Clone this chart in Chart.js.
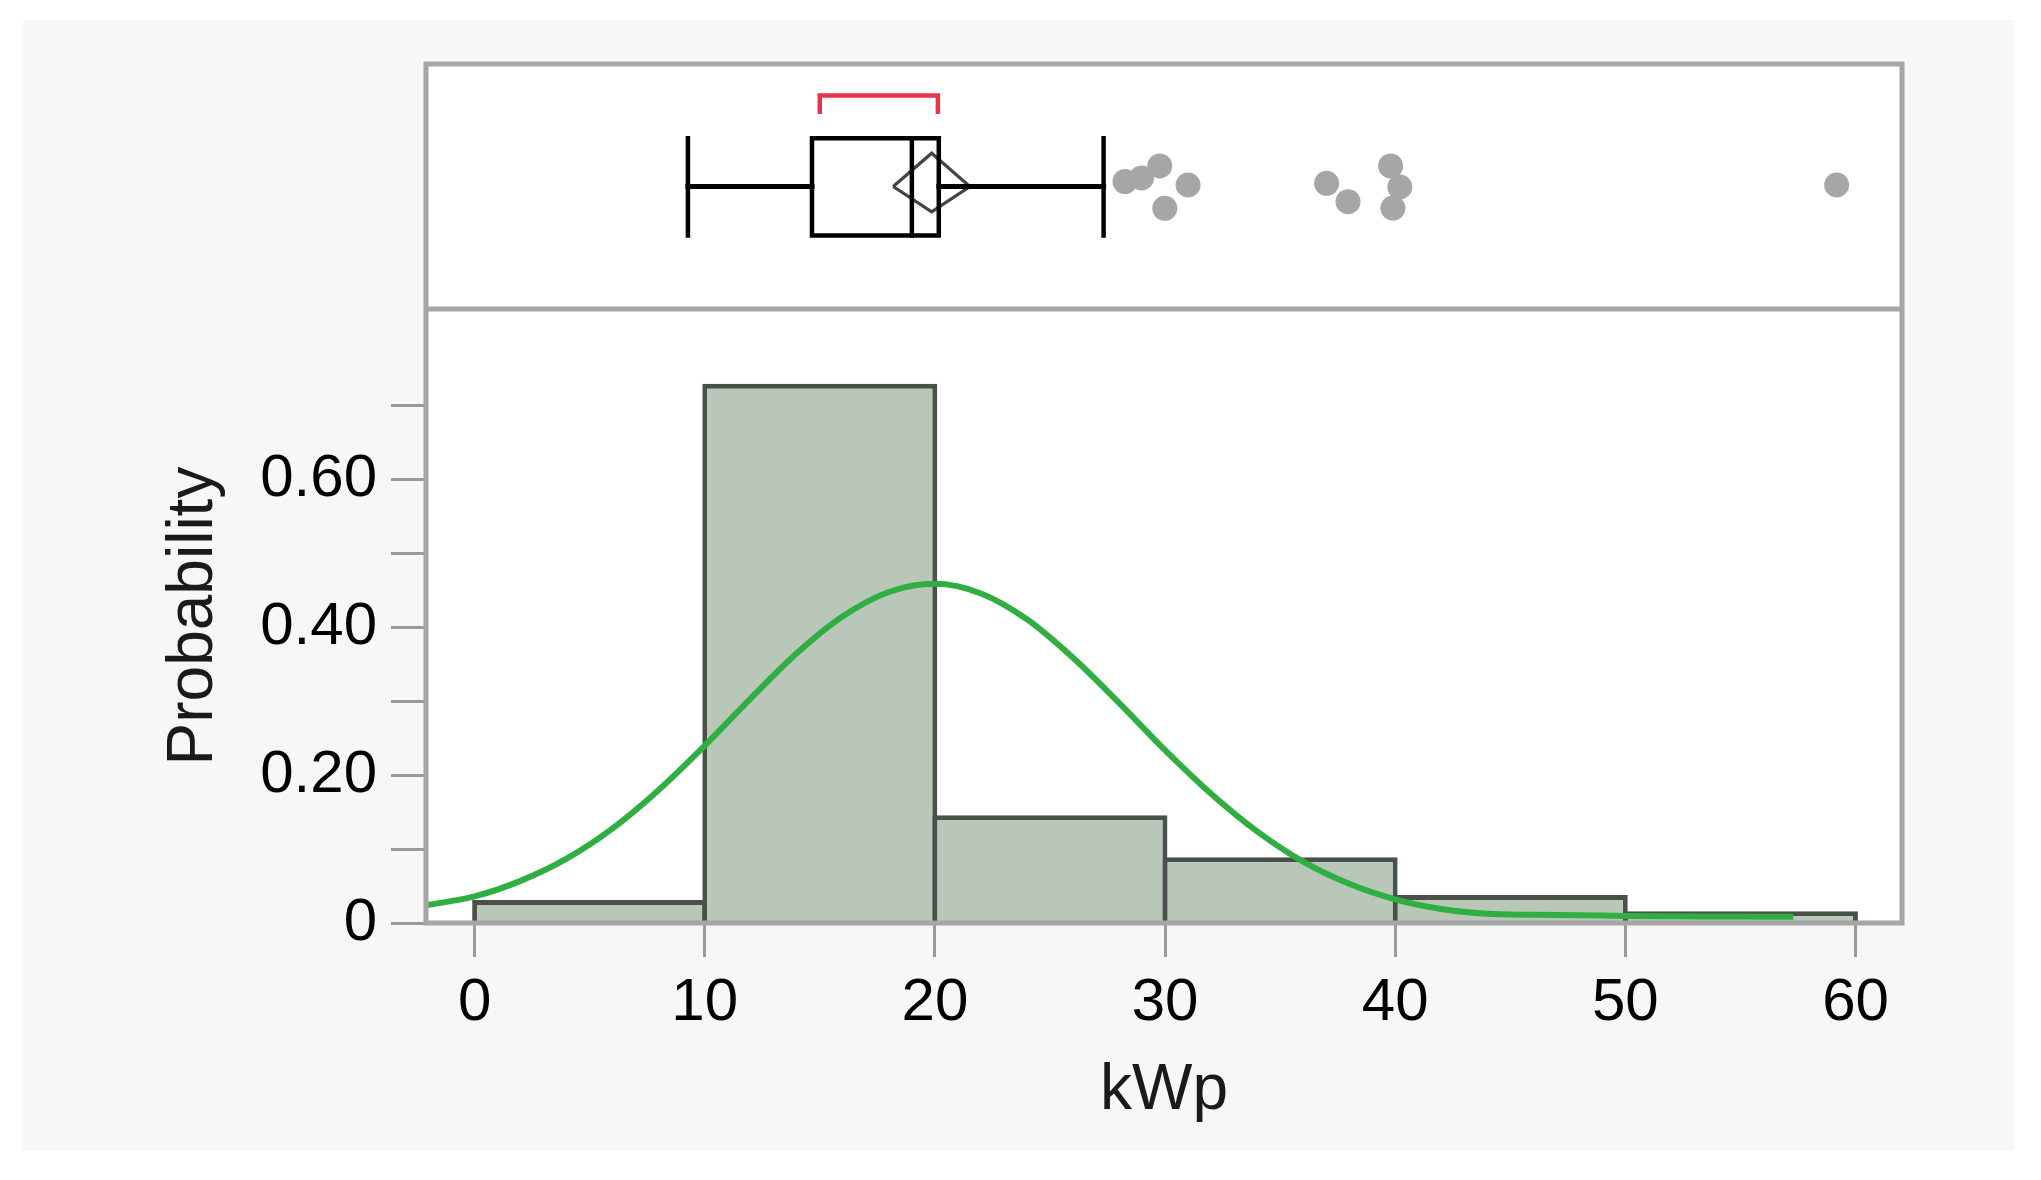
<!DOCTYPE html>
<html>
<head>
<meta charset="utf-8">
<title>kWp distribution</title>
<script src="https://cdn.jsdelivr.net/npm/chart.js@4.4.1/dist/chart.umd.min.js"></script>
<style>
  html, body { margin: 0; padding: 0; background: #ffffff; }
  #panel { position: absolute; left: 23px; top: 20px; width: 1991px; height: 1131px; background: #f7f7f7; }
</style>
</head>
<body>
<div id="panel"><canvas id="kwpChart"></canvas></div>
<script>
// ------------------ Data ------------------
// histogram bins (kWp) and probability per bin
const binEdges = [0, 10, 20, 30, 40, 50, 60];
const binProb = [0.031, 0.730, 0.146, 0.089, 0.038, 0.016];

// fitted normal curve
const curveX = [-2.11, 0, 2, 4, 6, 8, 10, 12, 14, 16, 18, 20, 22, 24, 26, 28, 30, 32, 34, 36, 38, 40, 42, 44, 46, 48, 50, 52, 54, 56, 57.3];
const curveY = [0.024, 0.036, 0.057, 0.087, 0.128, 0.180, 0.240, 0.304, 0.365, 0.415, 0.448, 0.459, 0.446, 0.411, 0.359, 0.298, 0.234, 0.175, 0.124, 0.083, 0.053, 0.032, 0.019, 0.0125, 0.011, 0.0105, 0.0095, 0.009, 0.0088, 0.0086, 0.0085];

// outlier box plot: whisker lo, q1, median, q3, whisker hi
const boxStats = [9.27, 14.66, 19.0, 20.17, 27.33];
const meanDiamond = [18.19, 19.86, 21.52]; // lower CI, mean, upper CI
const shortestHalf = [15.0, 20.13];
const outlierX = [28.26, 28.98, 29.77, 31.0, 29.99, 37.02, 37.95, 39.8, 40.2, 39.9, 59.18];
const outlierJitter = [0.52, 0.535, 0.584, 0.506, 0.411, 0.513, 0.438, 0.584, 0.498, 0.412, 0.506];

// axis ticks
const xTicks = [0, 10, 20, 30, 40, 50, 60];
const yTicks = [0, 0.1, 0.2, 0.3, 0.4, 0.5, 0.6, 0.7];
const yTickLabels = ['0', '', '0.20', '', '0.40', '', '0.60', ''];

// ------------------ Layout / style ------------------
// rows inside the box plot panel (yBox scale runs 0..1)
const ROW = { mid: 0.5, boxTop: 0.697, boxBottom: 0.30, diaTop: 0.636, diaBottom: 0.397, bracket: 0.871, bracketEnd: 0.796 };
const FRAME_COLOR = '#a6a6a6';
const TICK_COLOR = '#9a9a9a';

Chart.defaults.font.family = '"Liberation Sans", Arial, sans-serif';

function boxLine(points, color, width, cap) {
    return {
        type: 'line',
        yAxisID: 'yBox',
        data: points,
        borderColor: color,
        borderWidth: width,
        borderCapStyle: cap || 'square',
        borderJoinStyle: 'miter',
        pointRadius: 0,
        tension: 0,
        fill: false,
        order: 2
    };
}

// white plot area + gray frame with the divider between the two panels
const framePlugin = {
    id: 'frame',
    beforeDraw(chart) {
        const { ctx, chartArea: a } = chart;
        ctx.save();
        ctx.fillStyle = '#ffffff';
        ctx.fillRect(a.left, a.top, a.right - a.left, a.bottom - a.top);
        ctx.restore();
    },
    afterDatasetsDraw(chart) {
        const { ctx, chartArea: a } = chart;
        const yDiv = chart.scales.yBox.bottom;
        ctx.save();
        ctx.strokeStyle = FRAME_COLOR;
        ctx.lineWidth = 5;
        ctx.strokeRect(a.left, a.top, a.right - a.left, a.bottom - a.top);
        ctx.beginPath();
        ctx.moveTo(a.left, yDiv);
        ctx.lineTo(a.right, yDiv);
        ctx.stroke();
        ctx.restore();
    }
};

function renderChart() {
    const bins = binProb.map((p, i) => ({ x: (binEdges[i] + binEdges[i + 1]) / 2, y: p }));
    const curve = curveX.map((x, i) => ({ x, y: curveY[i] }));
    const [wLo, q1, med, q3, wHi] = boxStats;
    const [mLo, mean, mHi] = meanDiamond;

    new Chart(document.getElementById('kwpChart'), {
        type: 'bar',
        data: {
            datasets: [
                {
                    type: 'line',
                    yAxisID: 'y',
                    data: curve,
                    borderColor: '#2fae42',
                    borderWidth: 6,
                    pointRadius: 0,
                    cubicInterpolationMode: 'monotone',
                    fill: false,
                    order: 1
                },
                {
                    type: 'bar',
                    yAxisID: 'y',
                    data: bins,
                    backgroundColor: '#b9c7b9',
                    borderColor: '#4a504a',
                    borderWidth: 5,
                    borderSkipped: 'start',
                    // a bit over 1 so neighbouring outlines overlap into one line
                    barPercentage: 1.021,
                    categoryPercentage: 1,
                    order: 5
                },
                // box plot pieces
                boxLine([{ x: wLo, y: ROW.mid }, { x: q1, y: ROW.mid }], '#000', 5),
                boxLine([{ x: q3, y: ROW.mid }, { x: wHi, y: ROW.mid }], '#000', 5),
                boxLine([{ x: wLo, y: ROW.boxBottom }, { x: wLo, y: ROW.boxTop }], '#000', 4.5),
                boxLine([{ x: wHi, y: ROW.boxBottom }, { x: wHi, y: ROW.boxTop }], '#000', 4.5),
                boxLine([
                    { x: q1, y: ROW.boxBottom }, { x: q1, y: ROW.boxTop },
                    { x: q3, y: ROW.boxTop }, { x: q3, y: ROW.boxBottom },
                    { x: q1, y: ROW.boxBottom }
                ], '#000', 4.5),
                boxLine([{ x: med, y: ROW.boxBottom }, { x: med, y: ROW.boxTop }], '#000', 4.5),
                boxLine([
                    { x: mLo, y: ROW.mid }, { x: mean, y: ROW.diaTop },
                    { x: mHi, y: ROW.mid }, { x: mean, y: ROW.diaBottom },
                    { x: mLo, y: ROW.mid }
                ], '#444444', 3.2, 'butt'),
                boxLine([
                    { x: shortestHalf[0], y: ROW.bracketEnd }, { x: shortestHalf[0], y: ROW.bracket },
                    { x: shortestHalf[1], y: ROW.bracket }, { x: shortestHalf[1], y: ROW.bracketEnd }
                ], '#e8334a', 4.5, 'butt'),
                {
                    type: 'line',
                    yAxisID: 'yBox',
                    showLine: false,
                    data: outlierX.map((x, i) => ({ x, y: outlierJitter[i] })),
                    pointRadius: 12.5,
                    pointBackgroundColor: '#a6a6a6',
                    pointBorderWidth: 0,
                    pointBorderColor: 'rgba(0,0,0,0)',
                    order: 3
                }
            ]
        },
        options: {
            responsive: true,
            maintainAspectRatio: false,
            animation: false,
            layout: { padding: { top: 44, right: 112, left: 0, bottom: 0 } },
            plugins: {
                legend: { display: false },
                tooltip: { enabled: false }
            },
            scales: {
                x: {
                    type: 'linear',
                    min: -2.11,
                    max: 62.02,
                    offset: false,
                    afterBuildTicks: s => { s.ticks = xTicks.map(v => ({ value: v })); },
                    afterFit: s => { s.height = 228; },
                    grid: { drawOnChartArea: false, offset: false, tickLength: 34, color: TICK_COLOR, lineWidth: 3 },
                    border: { display: false },
                    ticks: { color: '#000', padding: 10, font: { size: 60 }, maxRotation: 0, autoSkip: false, callback: v => String(v) },
                    title: { display: true, text: 'kWp', color: '#1a1a1a', font: { size: 64 }, padding: { top: 0, bottom: 21 } }
                },
                y: {
                    type: 'linear',
                    position: 'left',
                    stack: 'panels',
                    stackWeight: 614,
                    min: 0,
                    max: 0.831,
                    afterBuildTicks: s => { s.ticks = yTicks.map(v => ({ value: v })); },
                    // fixed width; the top tick label sits at the divider, so no extra top padding
                    afterFit: s => { s.width = 403; s.paddingTop = 0; },
                    grid: { drawOnChartArea: false, tickLength: 35, color: TICK_COLOR, lineWidth: 3 },
                    border: { display: false },
                    ticks: { color: '#000', padding: 14, font: { size: 60 }, autoSkip: false, callback: (v, i) => yTickLabels[i] },
                    title: { display: true, text: 'Probability', color: '#1a1a1a', font: { size: 64 }, padding: { top: 133, bottom: 0 } }
                },
                yBox: {
                    type: 'linear',
                    position: 'left',
                    stack: 'panels',
                    stackWeight: 245,
                    min: 0,
                    max: 1,
                    afterFit: s => { s.width = 403; s.paddingTop = 0; s.paddingBottom = 0; },
                    grid: { display: false },
                    border: { display: false },
                    ticks: { display: false }
                }
            }
        },
        plugins: [framePlugin]
    });
}

document.addEventListener('DOMContentLoaded', renderChart);
</script>
</body>
</html>
